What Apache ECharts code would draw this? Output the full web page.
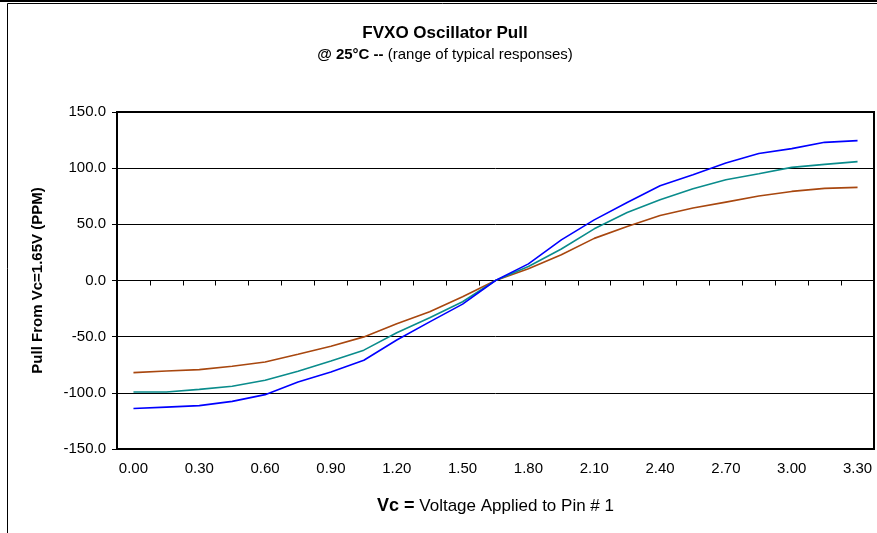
<!DOCTYPE html>
<html>
<head>
<meta charset="utf-8">
<script src="https://cdn.jsdelivr.net/npm/echarts@6/dist/echarts.min.js"></script>
<style>
  html, body { margin: 0; padding: 0; background: #ffffff; }
  #chart { width: 877px; height: 533px; }
</style>
</head>
<body>
<div id="chart"></div>
<script>
// Vc in volts (category labels)
const voltage = ['0.00', '0.15', '0.30', '0.45', '0.60', '0.75', '0.90', '1.05', '1.20', '1.35', '1.50', '1.65',
  '1.80', '1.95', '2.10', '2.25', '2.40', '2.55', '2.70', '2.85', '3.00', '3.15', '3.30'];

// pull in PPM, three typical responses
const pullHigh = [-114, -112.7, -111.4, -107.6, -101.6, -90.4, -81.4, -71, -53, -36.8, -21, 0,
  14.8, 36.2, 54, 69.5, 84.4, 94.2, 104.6, 113, 117.4, 123, 124.5];
const pullMid = [-99.3, -99.3, -96.9, -94.2, -88.8, -80.8, -71.6, -62, -46.5, -33.2, -18.9, 0,
  12.5, 28, 46, 60.5, 71.9, 81.7, 89.7, 95, 100.7, 103.4, 105.8];
const pullLow = [-82, -80.6, -79.3, -76.3, -72.5, -65.6, -58.5, -50.2, -38.5, -27.9, -14.5, 0,
  10.4, 23, 37.5, 48, 57.9, 64.5, 69.8, 75.2, 79.3, 82, 82.9];

const yTicks = { min: -150, max: 150, step: 50 };

const font = '"Liberation Sans", Arial, sans-serif';
const chart = echarts.init(document.getElementById('chart'));

const option = {
  animation: false,
  backgroundColor: '#ffffff',
  textStyle: { fontFamily: font, color: '#000' },
  title: {
    left: 440,
    textAlign: 'center',
    top: 20,
    text: 'FVXO Oscillator Pull',
    textStyle: { fontFamily: font, fontSize: 17, fontWeight: 'bold', color: '#000' },
    subtext: '{b|@ 25°C --} (range of typical responses)',
    itemGap: 5,
    subtextStyle: {
      fontFamily: font, fontSize: 15, color: '#000',
      rich: { b: { fontFamily: font, fontSize: 15, fontWeight: 'bold', color: '#000' } },
    },
  },
  graphic: [
    { type: 'line', shape: { x1: 0, y1: 1, x2: 877, y2: 1 }, style: { stroke: '#000', lineWidth: 2 } },
    { type: 'rect', shape: { x: 7.5, y: 3.5, width: 900, height: 600 }, style: { fill: null, stroke: '#000', lineWidth: 1 } },
  ],
  grid: {
    left: 117,
    right: 3,
    top: 112,
    bottom: 84,
    show: true,
    borderColor: '#000',
    borderWidth: 2,
    backgroundColor: 'transparent',
  },
  xAxis: [
    {
      type: 'category',
      data: voltage,
      position: 'bottom',
      boundaryGap: true,
      axisLine: { show: false, onZero: false },
      axisTick: { show: false },
      axisLabel: { interval: 1, margin: 12, fontSize: 15, color: '#000', fontFamily: font },
      name: '{b|Vc =} Voltage Applied to Pin # 1',
      nameLocation: 'middle',
      nameGap: 48,
      nameTextStyle: {
        fontFamily: font, fontSize: 17, color: '#000',
        rich: { b: { fontFamily: font, fontSize: 18, fontWeight: 'bold', color: '#000' } },
      },
    },
    {
      type: 'category',
      data: voltage,
      position: 'bottom',
      boundaryGap: true,
      axisLine: { show: true, onZero: true, lineStyle: { color: '#000', width: 1 } },
      axisTick: { show: true, interval: 0, length: 5, lineStyle: { color: '#000' } },
      axisLabel: { show: false },
    },
  ],
  yAxis: {
    type: 'value',
    min: yTicks.min,
    max: yTicks.max,
    interval: yTicks.step,
    axisLine: { show: true, lineStyle: { color: '#000', width: 2 } },
    axisTick: { show: true, length: 5, lineStyle: { color: '#000' } },
    axisLabel: { margin: 11, fontSize: 15, color: '#000', fontFamily: font, formatter: (v) => v.toFixed(1) },
    splitLine: { show: true, lineStyle: { color: '#000', width: 1 } },
    name: 'Pull From Vc=1.65V (PPM)',
    nameLocation: 'middle',
    nameGap: 72,
    nameTextStyle: { fontFamily: font, fontSize: 15, fontWeight: 'bold', color: '#000' },
  },
  series: [
    {
      type: 'line', data: pullLow, showSymbol: false, smooth: false,
      lineStyle: { color: '#A8470F', width: 1.6 },
    },
    {
      type: 'line', data: pullMid, showSymbol: false, smooth: false,
      lineStyle: { color: '#0A8C8C', width: 1.6 },
    },
    {
      type: 'line', data: pullHigh, showSymbol: false, smooth: false,
      lineStyle: { color: '#0000FF', width: 1.6 },
    },
  ],
};

chart.setOption(option);
</script>
</body>
</html>
